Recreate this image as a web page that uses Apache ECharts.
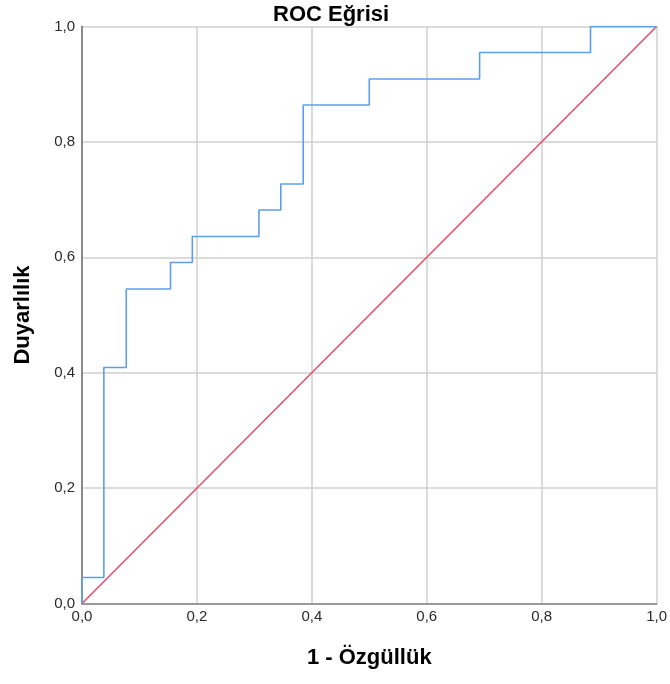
<!DOCTYPE html>
<html>
<head>
<meta charset="utf-8">
<script src="https://cdn.jsdelivr.net/npm/echarts@6/dist/echarts.min.js"></script>
<style>html,body{margin:0;padding:0;background:#fff}#c{width:670px;height:684px}</style>
</head>
<body>
<div id="c"></div>
<script>
// ROC curve coordinates (1 - specificity, sensitivity), corner points
const rocX = [0, 0, 0.038, 0.038, 0.077, 0.077, 0.154, 0.154, 0.192, 0.192, 0.308, 0.308, 0.346, 0.346, 0.385, 0.385, 0.5, 0.5, 0.692, 0.692, 0.885, 0.885, 1];
const rocY = [0, 0.045, 0.045, 0.409, 0.409, 0.545, 0.545, 0.591, 0.591, 0.636, 0.636, 0.682, 0.682, 0.727, 0.727, 0.864, 0.864, 0.909, 0.909, 0.955, 0.955, 1, 1];
const refX = [0, 1];
const refY = [0, 1];
const titleText = 'ROC Eğrisi';
const xName = '1 - Özgüllük';
const yName = 'Duyarlılık';

const chart = echarts.init(document.getElementById('c'), null, {renderer: 'canvas'});
const font = '"Liberation Sans", Arial, sans-serif';
const fmt = v => v.toFixed(1).replace('.', ',');
const axisCommon = {
  type: 'value', min: 0, max: 1, interval: 0.2,
  nameLocation: 'middle',
  nameTextStyle: {fontFamily: font, fontSize: 22, fontWeight: 'bold', color: '#000'},
  axisTick: {show: false},
  splitLine: {show: true, lineStyle: {color: '#cfcfcf', width: 1.5}},
  axisLabel: {fontFamily: font, fontSize: 15, color: '#2a2a2a', formatter: fmt}
};
chart.setOption({
  animation: false,
  backgroundColor: '#fff',
  title: {text: titleText, left: 268, top: -1,
    textStyle: {fontFamily: font, fontSize: 22, fontWeight: 'bold', color: '#000'}},
  grid: {left: 82, right: 11, top: 26.5, bottom: 80.5, containLabel: false},
  xAxis: Object.assign({}, axisCommon, {
    name: xName, nameGap: 43,
    axisLine: {show: true, lineStyle: {color: '#999', width: 2}},
    axisLabel: Object.assign({}, axisCommon.axisLabel, {margin: 6})
  }),
  yAxis: Object.assign({}, axisCommon, {
    name: yName, nameGap: 48,
    axisLine: {show: true, lineStyle: {color: '#8a8a8a', width: 2}},
    axisLabel: Object.assign({}, axisCommon.axisLabel, {margin: 7})
  }),
  series: [
    {type: 'line', data: refX.map((x, i) => [x, refY[i]]), symbol: 'none',
      lineStyle: {color: '#e3506f', width: 1.6}, z: 3},
    {type: 'line', data: rocX.map((x, i) => [x, rocY[i]]), symbol: 'none',
      lineStyle: {color: '#5d9eec', width: 1.6}, z: 4}
  ]
});
</script>
</body>
</html>
